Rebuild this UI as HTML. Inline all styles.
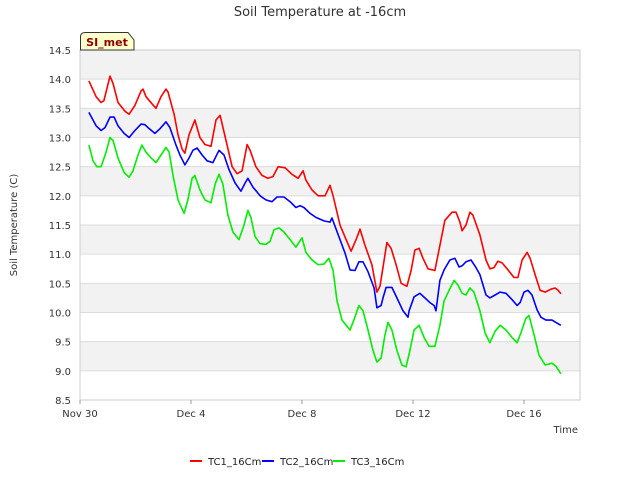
<!DOCTYPE html>
<html><head><meta charset="utf-8"><style>
body{margin:0;background:#fff;font-family:"Liberation Sans","DejaVu Sans",sans-serif}
svg text{font-family:"DejaVu Sans","Liberation Sans",sans-serif}
</style></head><body>
<svg id="c" width="640" height="480" xmlns="http://www.w3.org/2000/svg"></svg>
<script>
const yTicks=[8.5,9.0,9.5,10.0,10.5,11.0,11.5,12.0,12.5,13.0,13.5,14.0,14.5];
const xTickDays=[0,4,8,12,16];
const xTickLabels=["Nov 30","Dec 4","Dec 8","Dec 12","Dec 16"];
const seriesNames=["TC1_16Cm","TC2_16Cm","TC3_16Cm"];
const tc1Days=[.32,.58,.76,.86,1.08,1.19,1.37,1.62,1.77,1.98,2.20,2.27,2.38,2.59,2.74,2.92,3.10,3.17,3.39,3.53,3.68,3.78,3.93,4.14,4.32,4.50,4.72,4.90,5.05,5.26,5.48,5.66,5.84,6.02,6.13,6.34,6.56,6.77,6.95,7.14,7.39,7.64,7.86,8.04,8.14,8.36,8.58,8.83,9.01,9.12,9.37,9.59,9.77,9.95,10.09,10.27,10.52,10.70,10.81,11.06,11.21,11.39,11.57,11.78,11.93,12.07,12.22,12.36,12.54,12.79,12.97,13.15,13.41,13.55,13.69,13.77,13.91,14.05,14.16,14.41,14.63,14.77,14.92,15.06,15.21,15.39,15.64,15.78,15.93,16.11,16.22,16.40,16.58,16.76,16.97,17.12,17.23,17.33];
const tc1Vals=[13.97,13.7,13.6,13.63,14.05,13.93,13.6,13.45,13.4,13.55,13.8,13.83,13.7,13.58,13.5,13.7,13.83,13.78,13.4,13.05,12.8,12.73,13.05,13.3,13.0,12.88,12.85,13.3,13.38,12.95,12.5,12.38,12.43,12.88,12.78,12.5,12.35,12.3,12.33,12.5,12.48,12.37,12.3,12.43,12.27,12.1,12.0,12.0,12.18,12.0,11.5,11.25,11.05,11.25,11.43,11.15,10.82,10.35,10.45,11.2,11.1,10.82,10.5,10.45,10.72,11.07,11.1,10.93,10.75,10.72,11.15,11.58,11.72,11.72,11.55,11.4,11.5,11.72,11.67,11.33,10.9,10.75,10.77,10.88,10.85,10.75,10.6,10.6,10.9,11.03,10.93,10.65,10.38,10.35,10.4,10.42,10.38,10.32];
const tc2Days=[.32,.58,.76,.90,1.08,1.23,1.37,1.59,1.77,1.98,2.20,2.34,2.45,2.70,2.88,3.10,3.24,3.46,3.60,3.78,3.93,4.07,4.22,4.40,4.58,4.79,5.01,5.19,5.37,5.59,5.80,5.95,6.05,6.23,6.49,6.70,6.92,7.10,7.35,7.57,7.78,7.93,8.07,8.29,8.50,8.79,9.01,9.08,9.19,9.37,9.55,9.73,9.91,10.05,10.20,10.38,10.60,10.70,10.85,10.92,11.03,11.24,11.42,11.64,11.82,11.86,12.04,12.25,12.43,12.61,12.76,12.83,12.97,13.12,13.33,13.51,13.66,13.77,13.91,14.09,14.27,14.41,14.63,14.77,14.96,15.14,15.35,15.57,15.75,15.86,16.00,16.14,16.29,16.47,16.61,16.79,17.01,17.15,17.33];
const tc2Vals=[13.43,13.2,13.12,13.17,13.35,13.35,13.2,13.07,13.0,13.12,13.23,13.22,13.17,13.07,13.15,13.27,13.17,12.87,12.7,12.53,12.65,12.78,12.82,12.7,12.6,12.57,12.78,12.7,12.45,12.22,12.08,12.22,12.3,12.15,12.0,11.93,11.9,11.98,11.98,11.9,11.8,11.83,11.8,11.7,11.63,11.57,11.55,11.62,11.48,11.25,11.02,10.73,10.72,10.87,10.87,10.7,10.42,10.08,10.12,10.25,10.43,10.43,10.25,10.03,9.92,10.03,10.27,10.33,10.25,10.17,10.12,10.03,10.55,10.73,10.9,10.93,10.78,10.8,10.87,10.9,10.77,10.65,10.3,10.25,10.3,10.35,10.33,10.22,10.12,10.17,10.35,10.38,10.3,10.05,9.92,9.87,9.87,9.83,9.78];
const tc3Days=[.32,.47,.61,.76,.94,1.08,1.19,1.37,1.59,1.77,1.91,2.09,2.23,2.38,2.56,2.74,2.92,3.10,3.21,3.35,3.53,3.75,3.89,4.04,4.14,4.32,4.50,4.72,4.87,5.01,5.15,5.33,5.51,5.73,5.91,6.05,6.16,6.31,6.49,6.70,6.85,6.99,7.17,7.35,7.57,7.78,8.00,8.14,8.36,8.58,8.79,8.97,9.12,9.26,9.44,9.73,9.87,10.05,10.20,10.38,10.56,10.70,10.85,10.99,11.10,11.24,11.42,11.60,11.75,11.89,12.04,12.22,12.40,12.58,12.79,12.97,13.12,13.30,13.48,13.62,13.77,13.91,14.05,14.20,14.41,14.60,14.77,14.96,15.14,15.35,15.57,15.75,15.89,16.07,16.18,16.36,16.54,16.76,17.01,17.15,17.33];
const tc3Vals=[12.87,12.6,12.5,12.5,12.75,13.0,12.95,12.65,12.4,12.32,12.43,12.7,12.87,12.75,12.65,12.57,12.7,12.83,12.75,12.35,11.93,11.7,11.93,12.3,12.35,12.1,11.93,11.88,12.2,12.37,12.2,11.67,11.38,11.25,11.5,11.75,11.63,11.3,11.18,11.17,11.22,11.42,11.45,11.38,11.25,11.12,11.28,11.03,10.9,10.82,10.83,10.93,10.72,10.2,9.87,9.7,9.87,10.12,10.03,9.7,9.35,9.15,9.22,9.62,9.83,9.7,9.35,9.1,9.07,9.35,9.7,9.78,9.57,9.42,9.42,9.78,10.2,10.38,10.55,10.47,10.33,10.3,10.42,10.35,10.03,9.65,9.48,9.68,9.78,9.7,9.57,9.48,9.65,9.9,9.95,9.62,9.27,9.1,9.13,9.08,8.95];

const L=80,R=580,T=50,B=400,yMin=8.5,yMax=14.5,pxPerDay=27.75;
const X=d=>L+d*pxPerDay;
const Y=v=>B-(v-yMin)/(yMax-yMin)*(B-T);
const svg=document.getElementById('c');
const NS="http://www.w3.org/2000/svg";
function mk(tag,attrs,txt){const e=document.createElementNS(NS,tag);for(const k in attrs)e.setAttribute(k,attrs[k]);if(txt!==undefined)e.textContent=txt;svg.appendChild(e);return e;}

let e=mk('rect',{x:L,y:T,width:R-L,height:B-T,fill:'#fff'});


for(let i=0;i<yTicks.length-1;i++){
  if(i%2===1){
    e=mk('rect',{x:L,y:Y(yTicks[i+1]),width:R-L,height:Y(yTicks[i])-Y(yTicks[i+1]),fill:'#f2f2f2'});
    
    
  }
}
yTicks.forEach(v=>{
  e=mk('line',{x1:L,x2:R,y1:Y(v),y2:Y(v),stroke:'#dcdcdc','stroke-width':1});
  
  
  e=mk('text',{x:L-9,y:Y(v)+4,'text-anchor':'end','font-size':10,fill:'#333'},v.toFixed(1));
  
  
});
e=mk('rect',{x:L,y:T,width:R-L,height:B-T,fill:'none',stroke:'#ccc','stroke-width':1});


xTickDays.forEach((d,i)=>{
  e=mk('line',{x1:X(d),x2:X(d),y1:B,y2:B+4,stroke:'#999'});
  
  
  e=mk('text',{x:X(d),y:B+17,'text-anchor':'middle','font-size':10,fill:'#333'},xTickLabels[i]);
  
  
});
const colors=['#ff0000','#0000ff','#00ee00'];
const dayArrs=[tc1Days,tc2Days,tc3Days],valArrs=[tc1Vals,tc2Vals,tc3Vals];
dayArrs.forEach((ds,s)=>{
  const pts=ds.map((d,i)=>X(d).toFixed(1)+','+Y(valArrs[s][i]).toFixed(1)).join(' ');
  e=mk('polyline',{points:pts,fill:'none',stroke:colors[s],'stroke-width':1.6,'stroke-linejoin':'round'});
  
  
});
e=mk('text',{x:320,y:16,'text-anchor':'middle','font-size':13,fill:'#333'},'Soil Temperature at -16cm');


e=mk('text',{x:17,y:225,'text-anchor':'middle','font-size':10,fill:'#333',transform:'rotate(-90 17 225)'},'Soil Temperature (C)');


e=mk('text',{x:578,y:433,'text-anchor':'end','font-size':10,fill:'#333'},'Time');


e=mk('path',{d:'M80.5,50 L80.5,37 Q80.5,32.5 85,32.5 L128,32.5 L134,40 L134,50 Z',fill:'#ffffcc',stroke:'#333','stroke-width':1});


e=mk('text',{x:107,y:46,'text-anchor':'middle','font-size':11,'font-weight':'bold',fill:'#8b0000'},'SI_met');


const legX=[190,262,333];
seriesNames.forEach((n,s)=>{
  e=mk('line',{x1:legX[s],x2:legX[s]+12,y1:461,y2:461,stroke:colors[s],'stroke-width':2});
  
  
  e=mk('text',{x:legX[s]+18,y:465,'font-size':10,fill:'#222'},n);
  
  
});
</script>
</body></html>
